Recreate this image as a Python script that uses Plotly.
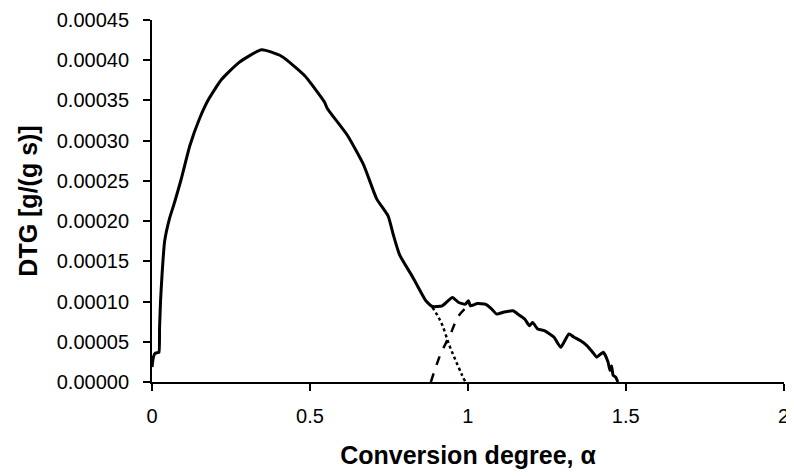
import plotly.graph_objects as go

# Main DTG curve (solid)
alpha_main = [0.0, 0.004, 0.009, 0.018, 0.022, 0.024, 0.027, 0.032, 0.04, 0.056, 0.072, 0.093,
              0.12, 0.15, 0.18, 0.22, 0.275, 0.347, 0.41, 0.483, 0.546, 0.555, 0.618, 0.670,
              0.711, 0.748, 0.764, 0.784, 0.826, 0.867, 0.888, 0.919, 0.951, 0.971, 0.992,
              1.002, 1.008, 1.03, 1.055, 1.075, 1.091, 1.115, 1.143, 1.160, 1.180, 1.195, 1.205,
              1.221, 1.242, 1.258, 1.273, 1.294, 1.320, 1.335, 1.356, 1.377, 1.395, 1.408,
              1.429, 1.444, 1.450, 1.455, 1.46, 1.468, 1.475]
dtg_main = [0.0000185, 0.000030, 0.0000354, 0.0000365, 0.000037, 0.000068, 0.000100, 0.000135,
            0.000175, 0.000204, 0.000224, 0.000253, 0.000294, 0.000327, 0.000352, 0.000376,
            0.000397, 0.000413, 0.000405, 0.000381, 0.000348, 0.000340, 0.000307, 0.000270,
            0.000228, 0.000206, 0.000183, 0.000158, 0.000130, 0.000101, 0.0000938, 0.0000947,
            0.000105, 0.0000988, 0.0000968, 0.000101, 0.0000947, 0.0000975, 0.0000968,
            0.000091, 0.0000844, 0.000087, 0.0000885, 0.000084, 0.0000783, 0.0000700,
            0.0000741, 0.0000659, 0.0000638, 0.000060, 0.0000556, 0.0000432, 0.0000598,
            0.000056, 0.0000515, 0.0000453, 0.000037, 0.0000309, 0.0000370, 0.0000247,
            0.0000144, 0.000020, 0.0000085, 0.000006, 0.0]

# First process tail (dotted)
alpha_dot = [0.888, 0.905, 0.92, 0.94, 0.96, 0.98, 0.992]
dtg_dot = [0.0000926, 0.000082, 0.000070, 0.000047, 0.000028, 0.000010, 0.0]

# Second process onset (dashed)
alpha_dash = [0.883, 0.898, 0.914, 0.93, 0.945, 0.958, 0.971, 0.988, 1.003]
dtg_dash = [0.0, 0.000018, 0.000035, 0.000048, 0.0000597, 0.000072, 0.0000823, 0.000090, 0.0000947]

y_ticks = [i * 0.00005 for i in range(10)]
x_ticks = [0, 0.5, 1, 1.5, 2]
x_labels = ["0", "0.5", "1", "1.5", "2"]

fig = go.Figure()
fig.add_trace(go.Scatter(x=alpha_main, y=dtg_main, mode="lines",
                         line=dict(color="black", width=3, shape="spline", smoothing=0.5),
                         showlegend=False))
fig.add_trace(go.Scatter(x=alpha_dot, y=dtg_dot, mode="lines",
                         line=dict(color="black", width=2.5, dash="dot", shape="spline"),
                         showlegend=False))
fig.add_trace(go.Scatter(x=alpha_dash, y=dtg_dash, mode="lines",
                         line=dict(color="black", width=2.5, dash="dash", shape="spline"),
                         showlegend=False))

fig.update_layout(
    width=786, height=468,
    margin=dict(l=144, r=10, t=12, b=94),
    paper_bgcolor="white", plot_bgcolor="white",
    font=dict(family="Liberation Sans, Arial, sans-serif", size=20, color="black"),
    xaxis=dict(range=[0, 2.001], tickvals=x_ticks, ticktext=x_labels, showgrid=False,
               zeroline=False, showline=True, linecolor="black", linewidth=2,
               ticks="outside", ticklen=7, tickwidth=2, tickcolor="black",
               ticklabelstandoff=8, automargin=False, ticklabeloverflow="allow",
               title=dict(text="<b>Conversion degree, α</b>", font=dict(size=25), standoff=20)),
    yaxis=dict(range=[0, 0.00045], tickvals=y_ticks, tickformat=".5f", showgrid=False,
               zeroline=False, showline=True, linecolor="black", linewidth=2,
               ticks="outside", ticklen=7, tickwidth=2, tickcolor="black",
               ticklabelstandoff=10, automargin=False, ticklabeloverflow="allow",
               title=dict(text="<b>DTG [g/(g s)]</b>", font=dict(size=25), standoff=12)),
)

fig.write_html("out.html")
